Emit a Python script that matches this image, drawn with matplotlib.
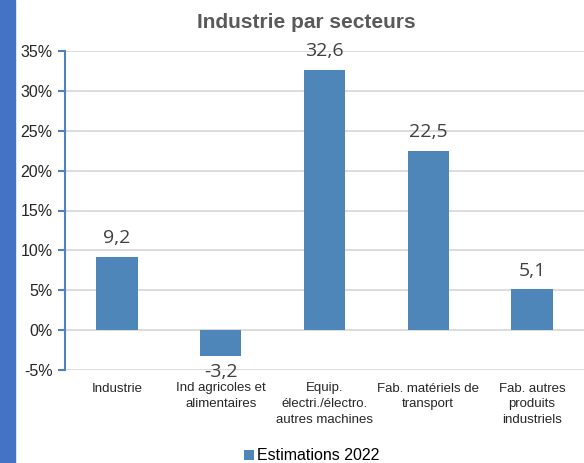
import matplotlib.pyplot as plt
from matplotlib.patches import Rectangle
from matplotlib.ticker import FuncFormatter

# donnees
secteurs = ['Industrie', 'Ind agricoles et\nalimentaires', 'Equip.\nélectri./électro.\nautres machines',
            'Fab. matériels de\ntransport', 'Fab. autres\nproduits\nindustriels']
estimations_2022 = [9.2, -3.2, 32.6, 22.5, 5.1]
yticks = [-5, 0, 5, 10, 15, 20, 25, 30, 35]

bar_color = '#4F86B9'
axis_blue = '#4F81BD'

plt.rcParams['font.family'] = ['Liberation Sans', 'DejaVu Sans']

fig = plt.figure(figsize=(5.84, 4.63), dpi=100)
ax = fig.add_axes([65 / 584, 93 / 463, 519 / 584, 319 / 463])

# bande bleue a gauche
fig.patches.append(Rectangle((0, 0), 15 / 584, 1, transform=fig.transFigure,
                             color='#4472C4', zorder=0))

x = range(len(secteurs))
bars = ax.bar(x, estimations_2022, width=0.4, color=bar_color, zorder=3,
              label='Estimations 2022')

for b, v in zip(bars, estimations_2022):
    txt = f'{v:.1f}'.replace('.', ',')
    if v >= 0:
        ax.annotate(txt, (b.get_x() + b.get_width() / 2, v), xytext=(0, 7),
                    textcoords='offset points', ha='center', va='bottom',
                    fontsize=14, color='#404040', family='Open Sans')
    else:
        ax.annotate(txt, (b.get_x() + b.get_width() / 2, v), xytext=(0, -5),
                    textcoords='offset points', ha='center', va='top',
                    fontsize=14, color='#404040', family='Open Sans')

ax.set_xlim(-0.5, len(secteurs) - 0.5)
ax.set_ylim(-5, 35)
ax.set_yticks(yticks)
ax.yaxis.set_major_formatter(FuncFormatter(lambda v, p: f'{v:.0f}%'))
ax.set_xticks(list(x))
ax.set_xticklabels(secteurs, fontsize=9.5, color='#262626', linespacing=1.4)
ax.tick_params(axis='x', length=0, pad=9)
ax.tick_params(axis='y', length=5, width=1.5, color=axis_blue, labelsize=11.5,
               labelcolor='#262626', pad=4)

ax.grid(axis='y', color='#D9D9D9', linewidth=1.3, zorder=0)
for s in ['top', 'right', 'bottom']:
    ax.spines[s].set_visible(False)
ax.spines['left'].set_color(axis_blue)
ax.spines['left'].set_linewidth(1.5)

fig.text(306 / 584, 1 - 22 / 463, 'Industrie par secteurs', ha='center', va='center',
         fontsize=15, fontweight='bold', color='#595959')

fig.legend(loc='center', bbox_to_anchor=(312 / 584, 1 - 456 / 463), frameon=False,
           fontsize=11.5, handlelength=0.6, handleheight=0.6, handletextpad=0.2)

fig.savefig('out.png', dpi=100)
